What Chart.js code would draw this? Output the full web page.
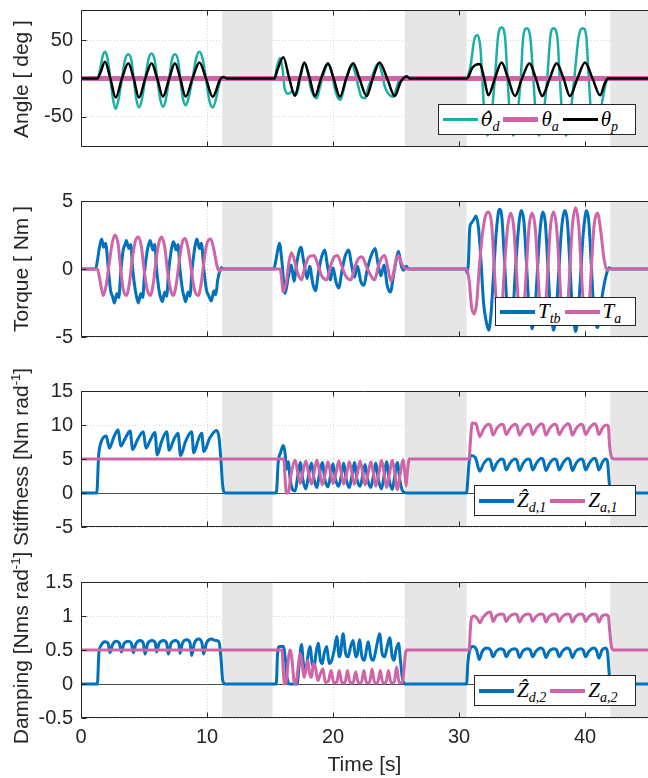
<!DOCTYPE html>
<html>
<head>
<meta charset="utf-8">
<script src="https://cdn.jsdelivr.net/npm/chart.js@4.4.1/dist/chart.umd.min.js"></script>
<style>
  body { margin: 0; background: #fff; }
  #fig { position: relative; width: 648px; height: 778px; overflow: hidden; }
  #fig canvas { position: absolute; left: 0; }
  .ytitle {
    position: absolute; left: 21px; white-space: nowrap;
    transform: translate(-50%, -50%) rotate(-90deg);
    font: 21px 'Liberation Sans', Arial, sans-serif; color: #262626;
  }
  .ytitle sup { font-size: 13px; vertical-align: 8px; line-height: 0; }
  .legend {
    position: absolute; background: #fff; border: 1px solid #262626; box-sizing: border-box;
    display: flex; align-items: center; padding-left: 4px; z-index: 5;
    font: italic 21px 'Liberation Serif', 'DejaVu Serif', serif; color: #000;
  }
  .legend i { display: inline-block; width: 35px; margin-right: 3px; }
  .legend span { margin-right: 4px; white-space: nowrap; }
  .legend sub { font-size: 14px; vertical-align: -5px; line-height: 0; }
  .legend .hat { font-family: 'DejaVu Serif', serif; font-size: 19px; margin: 0; }
</style>
</head>
<body>
<div id="fig">
  <canvas id="angleChart"></canvas>
  <canvas id="torqueChart"></canvas>
  <canvas id="stiffChart"></canvas>
  <canvas id="dampChart"></canvas>

  <div class="ytitle" style="top:79px">Angle [ deg ]</div>
  <div class="ytitle" style="top:269px">Torque [ Nm ]</div>
  <div class="ytitle" style="top:457px">Stiffness [Nm rad<sup>-1</sup>]</div>
  <div class="ytitle" style="top:648px">Damping [Nms rad<sup>-1</sup>]</div>

  <div class="legend" style="left:438px;top:104px;width:198px;height:31px">
    <i style="height:3px;background:#1cafa5"></i><span><span class="hat">θ&#770;</span><sub>d</sub></span>
    <i style="height:5px;background:#cf65a8"></i><span>θ<sub>a</sub></span>
    <i style="height:3px;background:#000"></i><span>θ<sub>p</sub></span>
  </div>
  <div class="legend" style="left:495px;top:297px;width:141px;height:29px">
    <i style="height:4px;background:#0072bd"></i><span>T<sub>tb</sub></span>
    <i style="height:4px;background:#cf65a8"></i><span>T<sub>a</sub></span>
  </div>
  <div class="legend" style="left:474px;top:485px;width:162px;height:31px">
    <i style="height:4px;background:#0072bd"></i><span>Z&#770;<sub>d,1</sub></span>
    <i style="height:4px;background:#cf65a8"></i><span>Z<sub>a,1</sub></span>
  </div>
  <div class="legend" style="left:474px;top:675px;width:162px;height:31px">
    <i style="height:4px;background:#0072bd"></i><span>Z&#770;<sub>d,2</sub></span>
    <i style="height:4px;background:#cf65a8"></i><span>Z<sub>a,2</sub></span>
  </div>
</div>

<script>
// --- Data (time [s], value) ---
const restBands = [[11.2, 15.2], [25.7, 30.6], [42, 45]];
const timeTicks = [0, 10, 20, 30, 40];
const angleTicks = [-50, 0, 50];
const torqueTicks = [-5, 0, 5];
const stiffTicks = [-5, 0, 5, 10, 15];
const dampTicks = [-0.5, 0, 0.5, 1, 1.5];

const thetaDes = [
  [0,0],[1.3,0],[1.5,10],[1.7,28],[1.9,35],[2.1,27],[2.33,0],[2.55,-28],[2.75,-40],[2.95,-30],[3.25,0],
  [3.5,25],[3.76,32],[4.0,24],[4.18,0],[4.4,-28],[4.6,-38],[4.8,-30],[5.1,0],[5.35,25],[5.6,33],[5.85,24],
  [6.05,0],[6.3,-28],[6.5,-37],[6.7,-30],[7.0,0],[7.22,25],[7.46,32],[7.7,24],[7.88,0],[8.1,-27],[8.3,-35],
  [8.5,-28],[8.85,0],[9.15,27],[9.4,35],[9.65,26],[9.92,0],[10.2,-30],[10.45,-38],[10.7,-28],[10.95,-8],
  [11.15,0],[11.35,1],[11.6,0],
  [15.35,0],[15.55,15],[15.8,27],[16.0,12],[16.15,-12],[16.45,-20],[16.8,-17],[17.1,-21],[17.4,0],
  [17.72,20],[18.0,8],[18.2,-10],[18.45,-22],[18.7,-26],[18.95,-12],[19.15,0],[19.6,18],[19.95,5],
  [20.1,-10],[20.35,-24],[20.6,-28],[20.85,-14],[21.05,0],[21.5,18],[21.8,5],[22.0,-10],[22.25,-24],
  [22.54,-26],[22.8,-12],[23.05,0],[23.6,20],[23.9,6],[24.1,-10],[24.4,-20],[24.8,-24],[25.05,-12],
  [25.3,0],[25.5,2],[25.8,0],
  [30.6,0],[30.75,5],[30.95,20],[31.2,50],[31.48,57],[31.7,40],[31.85,0],[32.0,-45],[32.25,-75],[32.5,-60],
  [32.85,0],[33.1,55],[33.38,67],[33.65,55],[33.85,0],[34.05,-50],[34.3,-75],[34.55,-60],[34.9,0],
  [35.1,55],[35.37,66],[35.65,55],[35.9,0],[36.1,-50],[36.35,-75],[36.6,-60],[37.0,0],[37.25,55],
  [37.5,66],[37.8,55],[38.0,0],[38.2,-50],[38.5,-75],[38.75,-60],[39.15,0],[39.5,55],[39.85,66],
  [40.1,55],[40.3,0],[40.5,-50],[40.8,-73],[41.1,-55],[41.6,-10],[41.85,0],[45,0]
];
const thetaAct = [[0,0],[45,0]];
const thetaPat = [
  [0,0],[1.3,0],[1.55,8],[1.9,22],[2.33,0],[2.75,-25],[3.25,0],[3.76,20],[4.18,0],[4.6,-25],[5.1,0],
  [5.6,20],[6.05,0],[6.5,-24],[7.0,0],[7.46,20],[7.88,0],[8.3,-24],[8.85,0],[9.4,21],[9.92,0],
  [10.45,-24],[11.05,-1],[11.3,2],[11.6,0],
  [15.35,0],[15.6,12],[16.06,28],[16.5,2],[16.98,-23],[17.35,0],[17.72,21],[18.15,0],[18.57,-23],
  [19.05,0],[19.6,20],[20.05,0],[20.55,-24],[21.05,0],[21.6,20],[22.1,0],[22.67,-23],[23.15,0],
  [23.7,21],[24.3,0],[24.9,-23],[25.35,-5],[25.58,0],[25.84,3],[26.1,0],
  [30.6,0],[30.74,2],[31.06,14],[31.66,19],[32.0,0],[32.33,-22],[32.85,0],[33.38,21],[33.9,0],
  [34.44,-23],[35.0,0],[35.6,20],[36.1,0],[36.6,-23],[37.2,0],[37.75,20],[38.3,0],[38.8,-23],[39.4,0],
  [40.0,21],[40.6,0],[41.19,-22],[41.6,-5],[41.85,0],[45,0]
];

const torqueTb = [
  [0,0],[1.15,0],[1.3,0.6],[1.45,1.5],[1.64,2.2],[1.8,1.6],[1.95,1.9],[2.15,0.2],[2.35,-1.6],[2.5,-2.0],
  [2.65,-2.5],[2.85,-1.8],[3.0,-2.1],[3.15,-0.3],[3.35,1.4],[3.5,1.8],[3.6,2.1],[3.8,1.5],[3.95,1.8],
  [4.1,0.0],[4.3,-1.5],[4.45,-2.2],[4.55,-2.5],[4.75,-1.8],[4.9,-2.1],[5.05,-0.2],[5.25,1.3],[5.4,1.9],
  [5.5,2.1],[5.7,1.4],[5.85,1.8],[6.0,0.0],[6.2,-1.6],[6.35,-2.2],[6.45,-2.4],[6.65,-1.7],[6.8,-2.0],
  [6.95,-0.2],[7.15,1.3],[7.25,1.8],[7.35,2.0],[7.55,1.4],[7.7,1.8],[7.85,0.0],[8.05,-1.5],[8.2,-2.1],
  [8.3,-2.4],[8.5,-1.7],[8.65,-2.0],[8.8,-0.2],[9.0,1.4],[9.1,1.9],[9.2,2.2],[9.4,1.5],[9.55,1.9],
  [9.75,0.0],[9.95,-1.5],[10.15,-2.0],[10.35,-2.35],[10.55,-1.6],[10.7,-1.9],[10.85,-0.8],[11.0,-0.2],
  [11.15,0.1],[11.3,0],
  [15.3,0],[15.5,0.8],[15.75,1.9],[15.95,0.5],[16.2,-1.8],[16.45,-0.6],[16.7,0.3],[16.9,-0.9],[17.15,0.6],
  [17.45,1.6],[17.7,0.4],[17.95,-0.7],[18.15,0.2],[18.4,-1.1],[18.6,-1.6],[18.85,-0.2],[19.1,0.9],
  [19.35,1.4],[19.55,0.3],[19.8,-0.8],[20.0,0.1],[20.25,-1.0],[20.45,-1.4],[20.7,-0.2],[20.95,0.9],
  [21.25,1.4],[21.45,0.4],[21.7,-0.6],[21.95,0.2],[22.2,-0.9],[22.45,-1.2],[22.7,-0.1],[23.0,0.9],
  [23.35,1.5],[23.55,0.5],[23.8,-0.5],[24.05,0.3],[24.3,-1.2],[24.55,-1.7],[24.8,-0.5],[25.0,0.6],
  [25.2,1.3],[25.4,0.3],[25.6,-0.1],[25.8,0.2],[26.0,0],
  [30.55,0],[30.65,-0.3],[30.75,0.5],[30.85,3.0],[31.0,3.4],[31.15,3.6],[31.35,3.9],[31.55,3.0],
  [31.75,0.5],[31.95,-2.5],[32.15,-3.8],[32.35,-4.5],[32.55,-3.2],[32.7,-1.0],[32.9,2.0],[33.05,3.6],
  [33.2,4.4],[33.4,3.8],[33.6,0.8],[33.8,-2.5],[33.95,-3.6],[34.1,-4.0],[34.3,-3.0],[34.45,-0.5],
  [34.65,2.2],[34.8,3.7],[34.95,4.3],[35.15,3.5],[35.35,0.5],[35.55,-2.8],[35.7,-3.9],[35.8,-4.4],
  [36.0,-3.4],[36.2,-0.5],[36.4,2.5],[36.55,3.8],[36.65,4.2],[36.85,3.4],[37.05,0.3],[37.25,-3.0],
  [37.4,-4.0],[37.5,-4.5],[37.7,-3.3],[37.9,-0.5],[38.1,2.5],[38.25,3.8],[38.4,4.3],[38.6,3.5],
  [38.8,0.3],[39.0,-3.0],[39.15,-4.1],[39.25,-4.6],[39.45,-3.3],[39.65,-0.5],[39.85,2.5],[40.0,3.8],
  [40.1,4.3],[40.3,3.5],[40.5,0.3],[40.7,-3.0],[40.85,-4.0],[41.0,-4.3],[41.2,-3.0],[41.45,-1.5],
  [41.7,-0.4],[41.9,0.1],[42.1,0],[45,0]
];
const torqueA = [
  [0,0],[1.3,0],[1.5,-0.8],[1.77,-1.95],[2.0,-1.2],[2.25,0.5],[2.5,2.0],[2.7,2.5],[2.95,1.8],[3.15,0],
  [3.35,-1.5],[3.6,-1.95],[3.85,-1.0],[4.05,0.6],[4.3,2.0],[4.55,2.35],[4.8,1.6],[5.0,0],[5.25,-1.5],
  [5.5,-1.95],[5.75,-1.0],[5.95,0.6],[6.2,2.0],[6.4,2.35],[6.65,1.6],[6.85,0],[7.1,-1.5],[7.33,-1.95],
  [7.58,-1.0],[7.8,0.6],[8.05,2.0],[8.25,2.25],[8.5,1.5],[8.75,0],[9.0,-1.5],[9.3,-1.95],[9.55,-1.0],
  [9.75,0.5],[10.0,1.9],[10.3,2.2],[10.55,1.4],[10.8,0.2],[11.0,-0.15],[11.2,0],
  [15.8,0],[15.9,-0.5],[16.05,-1.7],[16.3,-0.9],[16.5,0.5],[16.7,1.2],[16.95,0.6],[17.2,-0.3],[17.5,-0.8],
  [17.75,0.1],[18.1,0.9],[18.5,1.0],[18.8,0.3],[19.1,-0.5],[19.5,-0.8],[19.8,0.2],[20.1,0.9],[20.35,1.0],
  [20.7,0.2],[21.0,-0.5],[21.4,-0.8],[21.75,0.2],[22.05,0.8],[22.3,0.9],[22.65,0.2],[22.95,-0.4],
  [23.3,-0.8],[23.6,0.2],[23.85,0.8],[24.1,1.0],[24.35,0.1],[24.6,-0.9],[24.8,-0.3],[25.0,0.6],[25.2,1.0],
  [25.45,0.4],[25.7,0.05],[25.9,0],
  [30.6,0],[30.8,-0.8],[31.0,-2.8],[31.2,-3.3],[31.4,-2.5],[31.6,0],[31.85,2.5],[32.1,3.9],[32.35,4.2],
  [32.6,3.2],[32.8,0],[33.0,-3.0],[33.2,-4.0],[33.4,-3.0],[33.6,0],[33.85,3.0],[34.1,4.1],[34.35,3.0],
  [34.55,0],[34.75,-3.0],[34.95,-4.0],[35.15,-3.0],[35.35,0],[35.55,3.0],[35.8,4.1],[36.05,3.0],[36.25,0],
  [36.45,-3.0],[36.65,-4.0],[36.85,-3.0],[37.05,0],[37.25,3.0],[37.5,4.2],[37.75,3.0],[37.95,0],
  [38.15,-3.0],[38.4,-4.0],[38.6,-3.0],[38.8,0],[39.0,3.2],[39.25,4.5],[39.5,3.2],[39.7,0],[39.9,-3.0],
  [40.1,-4.0],[40.3,-3.0],[40.5,0],[40.7,3.0],[41.0,4.1],[41.25,2.8],[41.5,0.8],[41.75,-0.1],[41.95,0],[45,0]
];

const stiffDes = [
  [0,0],[1.25,0],[1.4,5.5],[1.6,7.5],[2.0,8.4],[2.25,6.6],[2.6,8.2],[2.95,9.3],[3.15,6.9],[3.5,8.0],
  [3.9,9.1],[4.1,6.4],[4.5,7.9],[4.95,9.0],[5.15,6.6],[5.5,7.8],[5.87,8.9],[6.05,5.6],[6.4,7.6],[6.8,9.0],
  [7.0,6.3],[7.35,7.8],[7.7,8.8],[7.9,5.5],[8.3,7.6],[8.78,9.0],[8.95,5.9],[9.3,7.8],[9.58,8.8],
  [9.75,6.1],[10.2,8.0],[10.75,9.2],[10.95,8.2],[11.1,5],[11.25,1],[11.45,0],
  [15.5,0],[15.65,4.5],[15.85,6],[16.05,7],[16.2,5.8],[16.3,3.5],[16.45,4.6],[16.6,2],[16.8,0.5],
  [17.0,0.3],[17.2,2.5],[17.4,4.5],[17.6,2.0],[17.85,0.6],[18.05,2.5],[18.3,4.4],[18.5,2.0],[18.72,0.8],
  [18.9,2.5],[19.15,4.5],[19.35,2.0],[19.6,0.9],[19.8,2.5],[20.0,4.3],[20.2,2.0],[20.45,1.0],[20.65,2.5],
  [20.85,4.4],[21.05,2.0],[21.3,0.8],[21.5,2.5],[21.7,4.5],[21.9,2.0],[22.15,1.0],[22.35,2.5],[22.55,4.2],
  [22.75,2.0],[23.0,0.8],[23.2,2.5],[23.4,4.4],[23.6,2.0],[23.85,0.6],[24.05,2.5],[24.25,4.6],[24.45,2.0],
  [24.7,0.5],[24.9,2.5],[25.1,4.5],[25.3,2.0],[25.5,0.4],[25.7,0.05],[25.9,0],
  [30.6,0],[30.7,2],[30.8,4.5],[30.95,5.5],[31.3,5.2],[31.65,3.2],[31.95,4.3],[32.35,5.0],[32.5,4.8],
  [32.7,3.3],[33.0,4.4],[33.4,5.0],[33.55,4.8],[33.75,3.4],[34.05,4.4],[34.45,5.0],[34.6,4.8],[34.8,3.3],
  [35.1,4.4],[35.5,5.0],[35.65,4.8],[35.85,3.4],[36.15,4.4],[36.55,5.1],[36.7,4.8],[36.9,3.3],[37.2,4.4],
  [37.6,5.0],[37.75,4.8],[37.95,3.4],[38.25,4.4],[38.65,5.1],[38.8,4.8],[39.0,3.3],[39.3,4.4],[39.7,5.0],
  [39.85,4.8],[40.05,3.4],[40.35,4.4],[40.75,5.1],[40.9,4.8],[41.1,3.4],[41.4,4.6],[41.65,5.0],[41.8,4.5],
  [41.9,2],[42.0,0.3],[42.1,0],[45,0]
];
const stiffAct = [
  [0,5],[16.1,5],[16.2,2],[16.3,0],[16.45,0],[16.65,2.5],[17.0,4.8],[17.2,3],[17.4,1.4],[17.6,3],[17.85,4.7],
  [18.05,3],[18.3,1.3],[18.5,3],[18.72,4.8],[18.95,3],[19.15,1.2],[19.4,3],[19.6,4.6],[19.8,3],[20.0,1.4],
  [20.25,3],[20.45,4.7],[20.65,3],[20.85,1.3],[21.1,3],[21.3,4.6],[21.5,3],[21.7,1.3],[21.95,3],[22.15,4.7],
  [22.35,3],[22.55,1.2],[22.8,3],[23.0,4.6],[23.2,3],[23.4,1.0],[23.65,3],[23.85,4.8],[24.05,3],[24.25,0.8],
  [24.5,3],[24.7,4.8],[24.9,3],[25.1,0.5],[25.35,3],[25.55,4.9],[25.7,3],[25.8,1.0],[25.9,3],[26.05,5],
  [30.8,5],[30.9,7.5],[31.05,10.3],[31.35,10.2],[31.65,8.3],[31.95,9.4],[32.35,10.1],[32.5,9.9],[32.7,8.5],
  [33.0,9.5],[33.4,10.1],[33.55,9.9],[33.75,8.6],[34.05,9.5],[34.45,10.1],[34.6,9.9],[34.8,8.5],[35.1,9.5],
  [35.5,10.1],[35.65,9.9],[35.85,8.6],[36.15,9.5],[36.55,10.2],[36.7,9.9],[36.9,8.5],[37.2,9.5],[37.6,10.1],
  [37.75,9.9],[37.95,8.6],[38.25,9.5],[38.65,10.2],[38.8,9.9],[39.0,8.5],[39.3,9.5],[39.7,10.1],[39.85,9.9],
  [40.05,8.6],[40.35,9.5],[40.75,10.2],[40.9,9.9],[41.1,8.6],[41.4,9.6],[41.7,10.0],[41.85,9.8],[41.95,7],
  [42.1,5.3],[42.3,5],[45,5]
];

const dampDes = [
  [0,0],[1.3,0],[1.42,0.45],[1.6,0.57],[1.9,0.62],[2.15,0.6],[2.3,0.46],[2.5,0.58],[2.8,0.63],[3.05,0.6],
  [3.2,0.47],[3.4,0.59],[3.75,0.63],[4.0,0.6],[4.15,0.46],[4.35,0.59],[4.7,0.64],[4.95,0.6],[5.08,0.44],
  [5.3,0.6],[5.65,0.64],[5.9,0.6],[6.0,0.47],[6.2,0.6],[6.55,0.64],[6.8,0.6],[6.93,0.44],[7.15,0.6],
  [7.5,0.64],[7.75,0.6],[7.86,0.45],[8.05,0.6],[8.4,0.65],[8.65,0.61],[8.78,0.42],[9.0,0.6],[9.35,0.66],
  [9.6,0.6],[9.72,0.44],[9.95,0.6],[10.35,0.66],[10.7,0.64],[10.95,0.62],[11.1,0.4],[11.25,0.05],[11.45,0],
  [15.5,0],[15.6,0.45],[15.75,0.55],[16.05,0.55],[16.2,0.4],[16.35,0.1],[16.55,0],[17.15,0],[17.3,0.25],
  [17.5,0.58],[17.65,0.3],[17.85,0.2],[18.0,0.4],[18.17,0.55],[18.35,0.3],[18.5,0.25],[18.65,0.45],
  [18.83,0.6],[19.0,0.35],[19.15,0.3],[19.3,0.45],[19.5,0.55],[19.7,0.3],[19.9,0.35],[20.1,0.5],[20.3,0.7],
  [20.5,0.4],[20.6,0.45],[20.8,0.74],[21.0,0.45],[21.2,0.4],[21.4,0.55],[21.6,0.64],[21.8,0.4],[21.95,0.45],
  [22.1,0.65],[22.3,0.4],[22.5,0.35],[22.65,0.5],[22.8,0.62],[23.0,0.4],[23.2,0.35],[23.45,0.55],[23.7,0.74],
  [23.9,0.45],[24.1,0.4],[24.3,0.55],[24.5,0.68],[24.7,0.4],[24.85,0.35],[25.0,0.5],[25.2,0.6],[25.35,0.35],
  [25.5,0.1],[25.7,0],
  [30.6,0],[30.7,0.3],[30.85,0.5],[31.1,0.55],[31.4,0.5],[31.6,0.36],[31.85,0.48],[32.2,0.53],[32.5,0.5],
  [32.7,0.4],[32.95,0.48],[33.3,0.52],[33.55,0.5],[33.75,0.4],[34.0,0.48],[34.4,0.52],[34.6,0.5],[34.8,0.39],
  [35.05,0.48],[35.45,0.52],[35.65,0.5],[35.85,0.4],[36.1,0.48],[36.5,0.53],[36.7,0.5],[36.9,0.39],
  [37.15,0.48],[37.55,0.52],[37.75,0.5],[37.95,0.4],[38.2,0.48],[38.6,0.53],[38.8,0.5],[39.0,0.39],
  [39.25,0.48],[39.65,0.52],[39.85,0.5],[40.05,0.4],[40.3,0.48],[40.7,0.53],[40.9,0.5],[41.1,0.38],
  [41.35,0.5],[41.65,0.53],[41.8,0.45],[41.9,0.2],[42.0,0.02],[42.1,0],[45,0]
];
const dampAct = [
  [0,0.5],[15.95,0.5],[16.05,0.2],[16.15,0],[16.3,0.05],[16.45,0.35],[16.6,0.5],[16.75,0.35],[16.9,0.05],
  [17.05,0],[17.2,0.2],[17.4,0.45],[17.55,0.3],[17.7,0.1],[17.85,0.2],[18.0,0.35],[18.15,0.15],[18.3,0.1],
  [18.45,0.3],[18.6,0.25],[18.8,0.05],[19.0,0.15],[19.2,0.22],[19.4,0.02],[19.65,0.05],[19.85,0.2],
  [20.05,0.02],[20.3,0.03],[20.5,0.2],[20.7,0.02],[20.95,0.02],[21.15,0.2],[21.35,0.02],[21.6,0.02],
  [21.8,0.18],[22.0,0.02],[22.25,0.02],[22.45,0.2],[22.65,0.02],[22.9,0.02],[23.1,0.22],[23.3,0.02],
  [23.55,0.02],[23.75,0.2],[23.95,0.02],[24.2,0.02],[24.4,0.2],[24.6,0.02],[24.85,0.02],[25.05,0.25],
  [25.25,0.02],[25.5,0.02],[25.65,0.25],[25.75,0.45],[25.85,0.5],
  [30.8,0.5],[30.9,0.8],[31.0,0.98],[31.2,1.0],[31.5,0.95],[31.65,0.9],[31.9,0.98],[32.3,1.05],[32.5,1.06],
  [32.7,0.92],[32.95,1.0],[33.35,1.03],[33.55,1.02],[33.75,0.92],[34.0,0.99],[34.4,1.03],[34.6,1.02],
  [34.8,0.91],[35.05,0.99],[35.45,1.03],[35.65,1.02],[35.85,0.92],[36.1,0.99],[36.5,1.03],[36.7,1.02],
  [36.9,0.91],[37.15,0.99],[37.55,1.03],[37.75,1.02],[37.95,0.92],[38.2,0.99],[38.6,1.03],[38.8,1.02],
  [39.0,0.91],[39.25,0.99],[39.65,1.03],[39.85,1.02],[40.05,0.92],[40.3,0.99],[40.7,1.03],[40.9,1.02],
  [41.1,0.91],[41.35,1.0],[41.65,1.02],[41.85,1.0],[41.95,0.8],[42.1,0.55],[42.3,0.5],[45,0.5]
];

// --- Styling ---
const TEAL = '#1cafa5', PINK = '#cf65a8', BLUE = '#0072bd', BLACK = '#000000';
const AXIS = '#262626';
const FONT = "'Liberation Sans', Arial, sans-serif";
const PAD = 14; // canvas margin above/below each axes box

// fixed axes boxes, top/bottom in page pixels
const panels = [
  { id: 'angleChart', top: 10, bottom: 147, min: -90, max: 90, ticks: angleTicks, zero: false,
    series: [[thetaDes, TEAL, 2.5, 3], [thetaAct, PINK, 5, 2], [thetaPat, BLACK, 2.5, 1]] },
  { id: 'torqueChart', top: 201, bottom: 337, min: -5, max: 5, ticks: torqueTicks, zero: false,
    series: [[torqueTb, BLUE, 3, 2], [torqueA, PINK, 3, 1]] },
  { id: 'stiffChart', top: 391, bottom: 527, min: -5, max: 15, ticks: stiffTicks, zero: true,
    series: [[stiffDes, BLUE, 3, 2], [stiffAct, PINK, 3, 1]] },
  { id: 'dampChart', top: 582, bottom: 718, min: -0.5, max: 1.5, ticks: dampTicks, zero: true, last: true,
    series: [[dampDes, BLUE, 3, 2], [dampAct, PINK, 3, 1]] }
];

// gray rest bands, zero line, box and inward tick marks
const framePlugin = {
  id: 'frame',
  beforeDatasetsDraw(chart, args, opts) {
    const { ctx, chartArea: a, scales: { x, y } } = chart;
    ctx.save();
    ctx.fillStyle = '#e6e6e6';
    restBands.forEach(([t0, t1]) => {
      const x0 = x.getPixelForValue(t0), x1 = x.getPixelForValue(t1);
      ctx.fillRect(x0, a.top, x1 - x0, a.bottom - a.top);
    });
    if (opts.zero) {
      const y0 = Math.round(y.getPixelForValue(0)) + 0.5;
      ctx.strokeStyle = '#4d4d4d';
      ctx.lineWidth = 1;
      ctx.beginPath(); ctx.moveTo(a.left, y0); ctx.lineTo(a.right, y0); ctx.stroke();
    }
    ctx.restore();
  },
  afterDatasetsDraw(chart) {
    const { ctx, chartArea: a, scales: { x, y } } = chart;
    const L = Math.round(a.left) + 0.5, T = Math.round(a.top) + 0.5, B = Math.round(a.bottom) - 0.5;
    ctx.save();
    ctx.strokeStyle = AXIS;
    ctx.lineWidth = 1;
    ctx.beginPath();
    ctx.moveTo(a.right, T); ctx.lineTo(L, T); ctx.lineTo(L, B); ctx.lineTo(a.right, B);
    timeTicks.forEach(t => {
      const px = Math.round(x.getPixelForValue(t)) + 0.5;
      ctx.moveTo(px, B); ctx.lineTo(px, B - 5);
      ctx.moveTo(px, T); ctx.lineTo(px, T + 5);
    });
    y.ticks.forEach(tk => {
      const py = Math.round(y.getPixelForValue(tk.value)) + 0.5;
      ctx.moveTo(L, py); ctx.lineTo(L + 5, py);
    });
    ctx.stroke();
    ctx.restore();
  }
};

function buildPanel(p) {
  const canvas = document.getElementById(p.id);
  const top = p.top - PAD;
  const height = p.last ? 778 - top : (p.bottom - p.top) + 2 * PAD;
  canvas.width = 648; canvas.height = height;
  canvas.style.top = top + 'px';
  canvas.style.width = '648px'; canvas.style.height = height + 'px';

  const datasets = p.series.map(([pts, color, width, order]) => ({
    data: pts.map(([t, v]) => ({ x: t, y: v })),
    borderColor: color, borderWidth: width, order,
    pointRadius: 0, fill: false, cubicInterpolationMode: 'monotone',
    borderJoinStyle: 'round', borderCapStyle: 'round'
  }));

  new Chart(canvas, {
    type: 'line',
    data: { datasets },
    options: {
      responsive: false, animation: false, devicePixelRatio: 1, events: [],
      layout: { padding: { top: PAD, bottom: p.last ? 0 : PAD, left: 0, right: 0 } },
      plugins: { legend: { display: false }, tooltip: { enabled: false }, frame: { zero: p.zero } },
      scales: {
        x: {
          type: 'linear', min: 0, max: 45,
          afterBuildTicks: s => { s.ticks = timeTicks.map(v => ({ value: v })); },
          afterFit: s => { s.height = p.last ? 60 : 0; s.paddingLeft = 0; s.paddingRight = 0; },
          grid: { color: '#d4d4d4', lineWidth: 1, drawTicks: false },
          border: { display: false, dash: [1, 2] },
          ticks: { display: !!p.last, color: AXIS, padding: 7, maxRotation: 0,
                   font: { family: FONT, size: 20 }, callback: v => String(v) },
          title: { display: !!p.last, text: 'Time [s]', color: AXIS, padding: { top: 0, bottom: 0 },
                   font: { family: FONT, size: 21 } }
        },
        y: {
          type: 'linear', min: p.min, max: p.max,
          afterBuildTicks: s => { s.ticks = p.ticks.map(v => ({ value: v })); },
          afterFit: s => { s.width = 81; s.paddingTop = 0; s.paddingBottom = 0; },
          grid: { color: '#d4d4d4', lineWidth: 1, drawTicks: false },
          border: { display: false, dash: [1, 2] },
          ticks: { color: AXIS, padding: 8, font: { family: FONT, size: 20 }, callback: v => String(v) }
        }
      }
    },
    plugins: [framePlugin]
  });
}

panels.forEach(buildPanel);
</script>
</body>
</html>
